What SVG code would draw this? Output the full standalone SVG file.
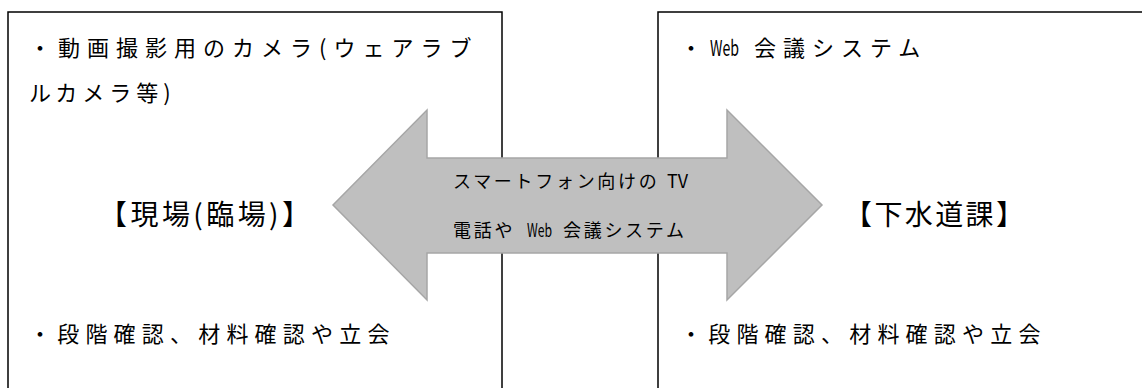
<svg xmlns="http://www.w3.org/2000/svg" width="1142" height="388" viewBox="0 0 1142 388">
<style>
.box{fill:#ffffff;stroke:#000000;stroke-width:1.5}
.t{font-family:"Noto Sans CJK JP","Noto Sans CJK SC",sans-serif;fill:#000000}
.body{font-size:22px}
.lbl{font-size:28px}
.arrtxt{font-size:18px}
.arrow{fill:#bfbfbf;stroke:#a6a6a6;stroke-width:1.5}
</style>
<rect width="1142" height="388" fill="#ffffff"/>
<g id="node-genba">
<rect class="box" x="8" y="12" width="494" height="400"/>
<text class="t body" x="29" y="56" letter-spacing="7">・動画撮影用のカメラ(ウェアラブ</text>
<text class="t body" x="29" y="101" letter-spacing="5">ルカメラ等)</text>
<text class="t lbl" x="99" y="225" textLength="211" lengthAdjust="spacing">【現場(臨場)】</text>
<text class="t body" x="29" y="342" letter-spacing="6.2">・段階確認、材料確認や立会</text>
</g>
<g id="node-gesuido">
<rect class="box" x="658" y="12" width="500" height="400"/>
<text class="t body" x="680" y="56">・<tspan x="710" textLength="29" lengthAdjust="spacingAndGlyphs">Web</tspan> <tspan x="754" letter-spacing="7">会議システム</tspan></text>
<text class="t lbl" x="844" y="225" textLength="180" lengthAdjust="spacing">【下水道課】</text>
<text class="t body" x="680" y="342" letter-spacing="6.2">・段階確認、材料確認や立会</text>
</g>
<g id="connectors">
<g id="arrow-both">
<polygon class="arrow" points="333,205 427,110 427,158 727,158 727,110 822,205 727,300 727,253 427,253 427,300"/>
<text class="t arrtxt" x="453" y="188" letter-spacing="2.7">スマートフォン向けの <tspan x="667" letter-spacing="0" textLength="21" lengthAdjust="spacingAndGlyphs">TV</tspan></text>
<text class="t arrtxt" x="453" y="237" letter-spacing="2.7">電話や <tspan x="527" letter-spacing="0" textLength="25" lengthAdjust="spacingAndGlyphs">Web</tspan> <tspan x="563" letter-spacing="2.7">会議システム</tspan></text>
</g>
</g>
</svg>
